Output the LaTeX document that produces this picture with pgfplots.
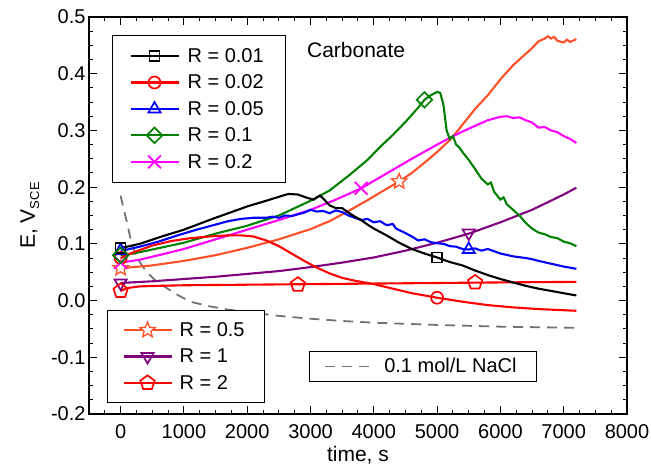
\documentclass[border=0pt]{standalone}
\usepackage{fontspec}
\setmainfont{Liberation Sans}
\usepackage{pgfplots}
\pgfplotsset{compat=1.18}
\definecolor{cgreen}{RGB}{0,128,0}
\definecolor{cmag}{RGB}{255,0,255}
\definecolor{corange}{RGB}{255,80,40}
\definecolor{cpurple}{RGB}{128,0,128}
\definecolor{cgray}{RGB}{115,115,115}
\definecolor{cred}{RGB}{255,0,0}
\definecolor{cblue}{RGB}{0,0,255}
\pgfdeclareplotmark{ostar}{%
  \pgfpathmoveto{\pgfqpointpolar{90}{\pgfplotmarksize}}%
  \pgfpathlineto{\pgfqpointpolar{126}{0.45\pgfplotmarksize}}%
  \pgfpathlineto{\pgfqpointpolar{162}{\pgfplotmarksize}}%
  \pgfpathlineto{\pgfqpointpolar{198}{0.45\pgfplotmarksize}}%
  \pgfpathlineto{\pgfqpointpolar{234}{\pgfplotmarksize}}%
  \pgfpathlineto{\pgfqpointpolar{270}{0.45\pgfplotmarksize}}%
  \pgfpathlineto{\pgfqpointpolar{306}{\pgfplotmarksize}}%
  \pgfpathlineto{\pgfqpointpolar{342}{0.45\pgfplotmarksize}}%
  \pgfpathlineto{\pgfqpointpolar{18}{\pgfplotmarksize}}%
  \pgfpathlineto{\pgfqpointpolar{54}{0.45\pgfplotmarksize}}%
  \pgfpathclose
  \pgfusepathqfillstroke
}
\pgfplotsset{
  base/.style={
    scale only axis, width=538pt, height=397pt,
    xmin=-500, xmax=8000, ymin=-0.2, ymax=0.5,
    legend image code/.code={\draw[mark repeat=2,mark phase=2] plot coordinates {(0pt,0pt) (24pt,0pt) (48pt,0pt)};},
    legend cell align=left,
    legend style={draw=black, line width=0.9pt, font=\fontsize{20}{22}\selectfont,
      fill=white, row sep=1pt, inner xsep=17pt, inner ysep=8pt,
      nodes={inner sep=5pt},
      /tikz/every odd column/.append style={column sep=3pt}},
  },
  dl/.style={line width=2.1pt, forget plot},
  mk/.style={only marks, line width=1.7pt, mark options={fill=white, solid}, forget plot},
}
\begin{document}
\begin{tikzpicture}
\begin{axis}[base,
  axis line style={line width=1.2pt},
  every tick/.style={black, line width=1pt},
  tick align=inside,
  major tick length=8pt, minor tick length=4pt,
  xtick={0,1000,2000,3000,4000,5000,6000,7000,8000},
  minor xtick={-250,250,500,750,1250,1500,1750,2250,2500,2750,3250,3500,3750,4250,4500,4750,5250,5500,5750,6250,6500,6750,7250,7500,7750},
  ytick={-0.2,-0.1,0,0.1,0.2,0.3,0.4,0.5},
  minor ytick={-0.175,-0.15,-0.125,-0.075,-0.05,-0.025,0.025,0.05,0.075,0.125,0.15,0.175,0.225,0.25,0.275,0.325,0.35,0.375,0.425,0.45,0.475},
  scaled x ticks=false,
  /pgf/number format/assume math mode=true,
  tick label style={font=\fontsize{20}{22}\selectfont},
  xticklabel style={yshift=-7pt, /pgf/number format/.cd, set thousands separator={}, fixed},
  yticklabel style={/pgf/number format/.cd, fixed, fixed zerofill, precision=1},
  xlabel={time, s},
  ylabel={E, V\raisebox{-0.4ex}{\fontsize{13}{13}\selectfont SCE}},
  label style={font=\fontsize{21}{23}\selectfont},
  xlabel style={at={(axis description cs:0.5,-0.105)}, anchor=center},
  ylabel style={at={(axis description cs:-0.11,0.5)}, anchor=center},
  legend style={at={(0.0428,0.955)}, anchor=north west},
]
\coordinate (sw) at (rel axis cs:0,0);
% NaCl
\addplot[cgray, dl, line width=1.8pt, dash pattern=on 10pt off 7pt] coordinates {
(0,0.185) (50,0.16) (100,0.138) (150,0.112) (200,0.092) (300,0.068) (400,0.052) (550,0.035) (700,0.024) (900,0.010) (1100,-0.002) (1400,-0.010) (1700,-0.016) (2000,-0.020) (2500,-0.027) (3000,-0.032) (3500,-0.036) (4000,-0.039) (5000,-0.043) (6000,-0.046) (7200,-0.048)};
% R=2
\addplot[cred, dl] coordinates {
(0,0.017) (100,0.022) (300,0.025) (600,0.026) (1000,0.027) (2000,0.028) (3000,0.029) (4000,0.030) (5000,0.031) (6000,0.032) (7200,0.033)};
% R=1
\addplot[cpurple, dl] coordinates {
(0,0.031) (500,0.034) (1000,0.038) (1500,0.042) (2000,0.047) (2500,0.052) (3000,0.059) (3500,0.067) (4000,0.076) (4500,0.088) (5000,0.102) (5500,0.118) (6000,0.138) (6500,0.160) (7000,0.187) (7200,0.199)};
% R=0.5
\addplot[corange, dl] coordinates {
(0,0.057) (200,0.059) (500,0.062) (1000,0.070) (1500,0.080) (2000,0.093) (2500,0.108) (3000,0.126) (3300,0.140) (3600,0.158) (3900,0.177) (4200,0.197) (4400,0.210) (4600,0.225) (4800,0.243) (5000,0.262) (5200,0.283) (5300,0.296) (5400,0.310) (5600,0.338) (5800,0.362) (6000,0.390) (6200,0.415) (6400,0.435) (6500,0.445) (6600,0.457) (6700,0.462) (6750,0.466) (6800,0.462) (6850,0.465) (6900,0.458) (7000,0.455) (7050,0.460) (7100,0.456) (7200,0.461)};
% R=0.2
\addplot[cmag, dl] coordinates {
(0,0.067) (300,0.072) (600,0.080) (1000,0.091) (1500,0.108) (2000,0.125) (2500,0.142) (3000,0.160) (3400,0.178) (3800,0.198) (4200,0.224) (4600,0.250) (5000,0.275) (5200,0.287) (5400,0.298) (5600,0.308) (5800,0.318) (6000,0.324) (6100,0.325) (6200,0.322) (6300,0.323) (6400,0.318) (6500,0.314) (6600,0.305) (6700,0.306) (6800,0.300) (6900,0.297) (7000,0.290) (7100,0.285) (7200,0.278)};
% R=0.1
\addplot[cgreen, dl] coordinates {
(0,0.080) (200,0.083) (500,0.090) (1000,0.102) (1500,0.118) (2000,0.132) (2500,0.150) (3000,0.176) (3300,0.194) (3600,0.220) (3900,0.248) (4100,0.271) (4300,0.292) (4500,0.315) (4700,0.340) (4800,0.354) (4900,0.362) (5000,0.368) (5050,0.366) (5100,0.345) (5150,0.300) (5200,0.285) (5250,0.290) (5300,0.275) (5350,0.270) (5400,0.262) (5450,0.255) (5500,0.248) (5600,0.232) (5700,0.215) (5800,0.205) (5850,0.208) (5900,0.192) (6000,0.178) (6050,0.182) (6100,0.170) (6200,0.160) (6300,0.150) (6400,0.137) (6500,0.127) (6600,0.120) (6700,0.117) (6800,0.112) (6900,0.110) (7000,0.104) (7100,0.101) (7200,0.096)};
% R=0.05
\addplot[cblue, dl] coordinates {
(0,0.088) (100,0.090) (300,0.095) (600,0.104) (900,0.115) (1200,0.125) (1500,0.134) (1700,0.140) (1900,0.144) (2100,0.146) (2300,0.146) (2400,0.148) (2500,0.146) (2600,0.150) (2700,0.149) (2800,0.152) (2900,0.155) (3000,0.160) (3100,0.157) (3200,0.158) (3300,0.154) (3400,0.159) (3500,0.156) (3600,0.150) (3700,0.146) (3800,0.142) (3900,0.144) (4000,0.138) (4100,0.140) (4200,0.133) (4300,0.135) (4350,0.127) (4500,0.119) (4600,0.113) (4700,0.106) (4800,0.108) (4900,0.103) (5000,0.101) (5100,0.100) (5200,0.096) (5300,0.095) (5400,0.091) (5500,0.090) (5600,0.092) (5700,0.088) (5800,0.091) (5900,0.087) (6000,0.083) (6200,0.078) (6400,0.075) (6500,0.073) (6600,0.070) (6800,0.065) (7000,0.060) (7200,0.056)};
% R=0.02
\addplot[cred, dl] coordinates {
(0,0.075) (200,0.085) (500,0.097) (800,0.105) (1100,0.110) (1400,0.113) (1700,0.115) (1900,0.115) (2100,0.113) (2300,0.106) (2500,0.096) (2700,0.083) (2900,0.070) (3100,0.058) (3300,0.048) (3500,0.040) (3700,0.035) (4000,0.029) (4300,0.021) (4600,0.013) (5000,0.005) (5400,-0.002) (5800,-0.008) (6200,-0.012) (6600,-0.015) (7000,-0.017) (7200,-0.018)};
% R=0.01
\addplot[black, dl] coordinates {
(0,0.093) (100,0.095) (300,0.100) (650,0.113) (1000,0.125) (1450,0.144) (2000,0.166) (2300,0.176) (2500,0.183) (2650,0.188) (2800,0.187) (2950,0.181) (3050,0.178) (3100,0.182) (3150,0.185) (3200,0.180) (3300,0.168) (3400,0.163) (3500,0.163) (3600,0.155) (3700,0.148) (3800,0.142) (3900,0.134) (4000,0.127) (4200,0.115) (4400,0.102) (4600,0.091) (4800,0.083) (5000,0.076) (5200,0.068) (5400,0.062) (5600,0.053) (5800,0.045) (6000,0.038) (6200,0.032) (6400,0.026) (6600,0.021) (6800,0.017) (7000,0.013) (7200,0.009)};
% markers
\addplot[cred, mk, mark=o, mark size=6pt] coordinates {(0,0.075) (5000,0.005)};
\addplot[cpurple, mk, mark=triangle, mark size=7pt, mark options={rotate=180}] coordinates {(0,0.031) (5500,0.119)};
\addplot[cred, mk, mark=pentagon, mark size=7.5pt] coordinates {(0,0.017) (2800,0.028) (5600,0.032)};
\addplot[corange, mk, mark=ostar, mark size=8pt, line width=1.3pt] coordinates {(0,0.057) (4400,0.210)};
\addplot[cmag, mk, mark=x, mark size=9pt] coordinates {(0,0.067) (3800,0.198)};
\addplot[cblue, mk, mark=triangle, mark size=7pt] coordinates {(0,0.088) (5500,0.090)};
\addplot[black, mk, mark=square, mark size=5pt] coordinates {(0,0.093) (5000,0.076)};
\addplot[cgreen, mk, mark=square, mark size=5.5pt, mark options={rotate=45}] coordinates {(0,0.080) (4800,0.354)};
\addlegendimage{black, line width=2.1pt, mark=square, mark size=5pt, mark options={fill=white, line width=1.7pt}}
\addlegendentry{R = 0.01}
\addlegendimage{cred, line width=2.1pt, mark=o, mark size=6pt, mark options={fill=white, line width=1.7pt}}
\addlegendentry{R = 0.02}
\addlegendimage{cblue, line width=2.1pt, mark=triangle, mark size=7pt, mark options={fill=white, line width=1.7pt}}
\addlegendentry{R = 0.05}
\addlegendimage{cgreen, line width=2.1pt, mark=square, mark size=5.5pt, mark options={fill=white, rotate=45, line width=1.7pt}}
\addlegendentry{R = 0.1}
\addlegendimage{cmag, line width=2.1pt, mark=x, mark size=9pt, mark options={line width=1.7pt}}
\addlegendentry{R = 0.2}
\node[anchor=west, inner sep=0pt, font=\fontsize{21}{23}\selectfont] at (axis cs:2943,0.442) {Carbonate};
\end{axis}
\begin{axis}[base, hide axis, legend style={at={(0.0335,0.262)}, anchor=north west, inner xsep=15pt, inner ysep=7pt, /tikz/every odd column/.append style={column sep=2pt}}]
\addlegendimage{corange, line width=2.1pt, mark=ostar, mark size=8pt, mark options={fill=white, line width=1.3pt}}
\addlegendentry{R = 0.5}
\addlegendimage{cpurple, line width=2.1pt, mark=triangle, mark size=7pt, mark options={fill=white, rotate=180, line width=1.7pt}}
\addlegendentry{R = 1}
\addlegendimage{cred, line width=2.1pt, mark=pentagon, mark size=7.5pt, mark options={fill=white, line width=1.7pt}}
\addlegendentry{R = 2}
\end{axis}
\begin{axis}[base, hide axis, legend style={at={(0.409,0.1587)}, anchor=north west, inner xsep=15pt, inner ysep=2pt, /tikz/every odd column/.append style={column sep=5pt}}]
\addlegendimage{cgray, line width=1.8pt, dash pattern=on 10pt off 7pt}
\addlegendentry{0.1 mol/L NaCl}
\end{axis}
\pgfresetboundingbox
\path[use as bounding box] ([xshift=-89pt,yshift=-58pt]sw) rectangle ([xshift=562pt,yshift=414pt]sw);
\end{tikzpicture}
\end{document}
